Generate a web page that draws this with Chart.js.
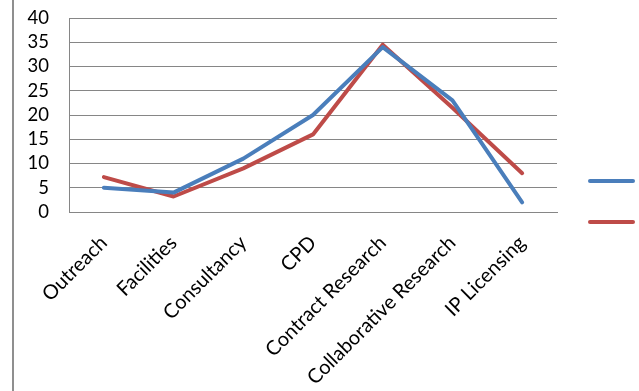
<!DOCTYPE html>
<html>
<head>
<meta charset="utf-8">
<script src="https://cdn.jsdelivr.net/npm/chart.js@4/dist/chart.umd.min.js"></script>
<style>
  html, body { margin: 0; padding: 0; background: #fff; overflow: hidden; }
  #wrap { position: relative; width: 639px; height: 391px; }
  #frame { position: absolute; left: 12px; top: 0; width: 2px; height: 391px; background: #8f8f8f; }
  canvas { position: absolute; left: 0; top: 0; }
</style>
</head>
<body>
<div id="wrap">
  <div id="frame"></div>
  <canvas id="c" width="639" height="391"></canvas>
</div>
<script>
// Categories of activity
const categories = ['Outreach', 'Facilities', 'Consultancy', 'CPD', 'Contract Research', 'Collaborative Research', 'IP Licensing'];
// Two series of values per category
const seriesBlue = [5, 4, 11, 20, 34, 23, 2];
const seriesRed = [7.2, 3.2, 9, 16, 34.5, 21.5, 8];
// Value axis tick range
const yMin = 0;
const yMax = 40;
const yStep = 5;

const BLUE = '#4a7ebb';
const RED = '#be4b48';
const FONT = 'Lato, "Open Sans", "DejaVu Sans", sans-serif';

// Legend drawn as short line swatches to the right of the plot
const swatchLegend = {
  id: 'swatchLegend',
  afterDraw(chart) {
    const ctx = chart.ctx;
    const area = chart.chartArea;
    const x0 = area.right + 33;
    const x1 = x0 + 43;
    const rows = [area.top + 163, area.top + 204];
    chart.data.datasets.forEach((ds, i) => {
      ctx.save();
      ctx.strokeStyle = ds.borderColor;
      ctx.lineWidth = 4;
      ctx.lineCap = 'round';
      ctx.beginPath();
      ctx.moveTo(x0, rows[i]);
      ctx.lineTo(x1, rows[i]);
      ctx.stroke();
      ctx.restore();
    });
  }
};

new Chart(document.getElementById('c'), {
  type: 'line',
  data: {
    labels: categories,
    datasets: [
      { data: seriesBlue, borderColor: BLUE, backgroundColor: BLUE, borderWidth: 4, pointRadius: 0, tension: 0, borderCapStyle: 'round', borderJoinStyle: 'round' },
      { data: seriesRed, borderColor: RED, backgroundColor: RED, borderWidth: 4, pointRadius: 0, tension: 0, borderCapStyle: 'round', borderJoinStyle: 'round' }
    ]
  },
  options: {
    responsive: false,
    animation: false,
    devicePixelRatio: 1,
    layout: { padding: { left: 0, right: 82, top: 18, bottom: 0 } },
    plugins: { legend: { display: false }, tooltip: { enabled: false } },
    scales: {
      x: {
        offset: true,
        grid: { display: false, drawTicks: false, offset: true },
        border: { display: true, color: '#868686', width: 1 },
        ticks: {
          color: '#000',
          font: { family: FONT, size: 20 },
          minRotation: 45,
          maxRotation: 45,
          autoSkip: false,
          padding: 19
        },
        afterFit(scale) { scale.height = 179; }
      },
      y: {
        min: yMin,
        max: yMax,
        grid: { color: '#868686', lineWidth: 1, drawTicks: true, tickLength: 20, tickColor: 'rgba(0,0,0,0)' },
        border: { display: true, color: '#868686', width: 1 },
        ticks: {
          stepSize: yStep,
          autoSkip: false,
          color: '#000',
          font: { family: FONT, size: 18.5 },
          padding: 0
        },
        afterFit(scale) { scale.width = 69; }
      }
    }
  },
  plugins: [swatchLegend]
});
</script>
</body>
</html>
